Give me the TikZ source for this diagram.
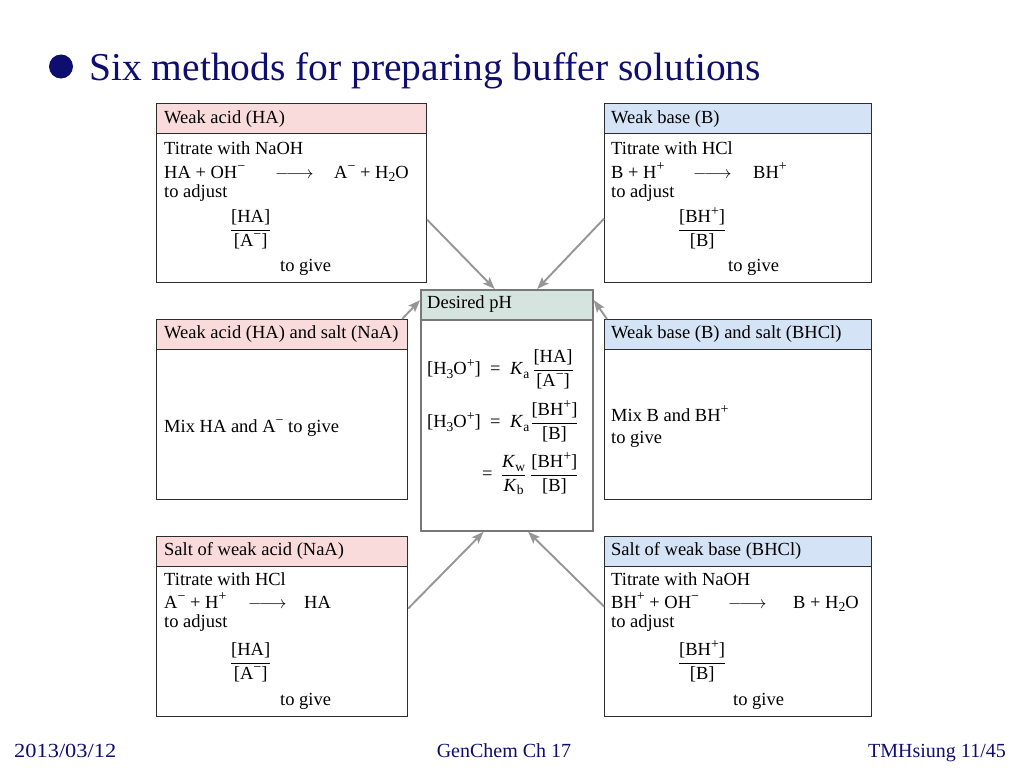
\documentclass[tikz,border=0pt]{standalone}
\usepackage{amsmath}
\usepackage{fontspec}
\setmainfont{Liberation Serif}
\usetikzlibrary{arrows.meta,calc}
\definecolor{navy}{RGB}{14,14,112}
\definecolor{pinkh}{RGB}{249,219,220}
\definecolor{blueh}{RGB}{212,227,245}
\definecolor{greenh}{RGB}{214,228,224}
\definecolor{boxc}{RGB}{45,45,45}
\definecolor{cboxc}{RGB}{120,120,120}
\definecolor{arrc}{RGB}{150,150,150}
\newcommand\sups[1]{\raisebox{7.5pt}{\fontsize{14}{14}\selectfont #1}}
\newcommand\sbs[1]{\raisebox{-3.5pt}{\fontsize{13.5}{14}\selectfont #1}}
\newcommand\mn{\sups{−}}
\newcommand\pl{\sups{+}}
\newcommand\lra{$\relbar\joinrel\relbar\joinrel\rightarrow$}
\newcommand\rxn[4]{\makebox[#1][l]{#3}\makebox[#2][l]{\lra}#4}
\newcommand\fr[2]{$\dfrac{\mbox{#1}}{\mbox{#2}}$}
\newcommand\bxfont{\fontsize{18.5}{22}\selectfont}
\tikzset{
  box/.style={draw=boxc, line width=1.2pt, inner sep=0pt, anchor=north west},
  hdr/.style={box, minimum height=30pt},
  cbox/.style={draw=cboxc, line width=1.8pt, inner sep=0pt, anchor=north west},
  txt/.style={anchor=base west, inner sep=0pt, font=\bxfont},
  arr/.style={draw=arrc, line width=1.9pt, -{Stealth[length=12pt,width=9pt,inset=2.5pt]}},
  foot/.style={inner sep=0pt, font=\fontsize{20}{24}\selectfont, text=navy}
}
\begin{document}
\begin{tikzpicture}[x=1pt,y=-1pt]
\fill[white] (0,0) rectangle (1024,768);
\useasboundingbox (0,0) rectangle (1024,768);

% title
\fill[navy] (61,66.5) circle (12);
\node[anchor=base west, inner sep=0pt, font=\fontsize{39.5}{44}\selectfont, text=navy] (title) at (89,81) {Six methods for preparing buffer solutions};

% ---------- top left
\node[hdr, fill=pinkh, minimum width=270pt] (tlh) at (156,103) {};
\node[box, minimum width=270pt, minimum height=179pt] (tl) at (156,103) {};
\node[txt] (tl0) at (164,123) {Weak acid (HA)};
\node[txt] (tl1) at (164,154) {Titrate with NaOH};
\node[txt] (tl2) at (164,178) {\rxn{111pt}{59pt}{HA + OH\mn}{A\mn{} + H\sbs{2}O}};
\node[txt] (tl3) at (164,197) {to adjust};
\node[txt] (tl4) at (229.8,234.6) {\fr{[HA]}{[A\mn]}};
\node[txt] (tl5) at (280,271) {to give};

% ---------- top right
\node[hdr, fill=blueh, minimum width=267pt] (trh) at (604,103) {};
\node[box, minimum width=267pt, minimum height=179pt] (tr) at (604,103) {};
\node[txt] (tr0) at (611,123) {Weak base (B)};
\node[txt] (tr1) at (611,154) {Titrate with HCl};
\node[txt] (tr2) at (611,178) {\rxn{82pt}{60pt}{B + H\pl}{BH\pl}};
\node[txt] (tr3) at (611,197) {to adjust};
\node[txt] (tr4) at (677.8,234.6) {\fr{[BH\pl]}{[B]}};
\node[txt] (tr5) at (728,271) {to give};

% ---------- middle left
\node[hdr, fill=pinkh, minimum width=251pt] (mlh) at (156,319) {};
\node[box, minimum width=251pt, minimum height=180pt] (ml) at (156,319) {};
\node[txt] (ml0) at (164,338) {Weak acid (HA) and salt (NaA)};
\node[txt] (ml1) at (164,432) {Mix HA and A\mn{} to give};

% ---------- middle right
\node[hdr, fill=blueh, minimum width=267pt] (mrh) at (604,319) {};
\node[box, minimum width=267pt, minimum height=180pt] (mr) at (604,319) {};
\node[txt] (mr0) at (611,338) {Weak base (B) and salt (BHCl)};
\node[txt] (mr1) at (611,421) {Mix B and BH\pl};
\node[txt] (mr2) at (611,443) {to give};

% ---------- centre
\node[cbox, fill=greenh, minimum width=172pt, minimum height=30pt] (ch) at (420,289) {};
\node[cbox, minimum width=172pt, minimum height=241pt] (c) at (420,289) {};
\node[txt] (c0) at (427,308) {Desired pH};
\node[txt] (c1) at (427,374.6) {\makebox[63pt][l]{[H\sbs{3}O\pl]}\makebox[20pt][l]{=}\textit{K}\sbs{a}\hspace{3pt}\fr{[HA]}{[A\mn]}};
\node[txt] (c2) at (427,427.6) {\makebox[63pt][l]{[H\sbs{3}O\pl]}\makebox[20pt][l]{=}\textit{K}\sbs{a}\hspace{1pt}\fr{[BH\pl]}{[B]}};
\node[txt] (c3) at (482,479.6) {\makebox[18.8pt][l]{=}$\dfrac{\mbox{\textit{K}\sbs{w}}}{\mbox{\textit{K}\sbs{b}}}\hspace{4pt}\dfrac{\mbox{[BH\pl]}}{\mbox{[B]}}$};

% ---------- bottom left
\node[hdr, fill=pinkh, minimum width=251pt] (blh) at (156,536) {};
\node[box, minimum width=251pt, minimum height=180pt] (bl) at (156,536) {};
\node[txt] (bl0) at (164,555) {Salt of weak acid (NaA)};
\node[txt] (bl1) at (164,585) {Titrate with HCl};
\node[txt] (bl2) at (164,608) {\rxn{84pt}{56pt}{A\mn{} + H\pl}{HA}};
\node[txt] (bl3) at (164,627) {to adjust};
\node[txt] (bl4) at (229.8,667.6) {\fr{[HA]}{[A\mn]}};
\node[txt] (bl5) at (280,705) {to give};

% ---------- bottom right
\node[hdr, fill=blueh, minimum width=267pt] (brh) at (604,536) {};
\node[box, minimum width=267pt, minimum height=180pt] (br) at (604,536) {};
\node[txt] (br0) at (611,555) {Salt of weak base (BHCl)};
\node[txt] (br1) at (611,585) {Titrate with NaOH};
\node[txt] (br2) at (611,608) {\rxn{117pt}{65pt}{BH\pl{} + OH\mn}{B + H\sbs{2}O}};
\node[txt] (br3) at (611,627) {to adjust};
\node[txt] (br4) at (677.8,667.6) {\fr{[BH\pl]}{[B]}};
\node[txt] (br5) at (733,705) {to give};

% ---------- arrows
\draw[arr] ($(tl.north east)!0.648!(tl.south east)$) -- ($(c.north west)!0.43!(c.north east)$);
\draw[arr] ($(tr.north west)!0.642!(tr.south west)$) -- ($(c.north west)!0.674!(c.north east)$);
\draw[arr] ($(ml.north west)!0.976!(ml.north east)$) -- ($(c.north west)!0.046!(c.south west)$);
\draw[arr] ($(mr.north west)!0.011!(mr.north east)$) -- ($(c.north east)!0.046!(c.south east)$);
\draw[arr] ($(bl.north east)!0.4!(bl.south east)$) -- ($(c.south west)!0.366!(c.south east)$);
\draw[arr] ($(br.north west)!0.389!(br.south west)$) -- ($(c.south west)!0.622!(c.south east)$);

% ---------- footer
\node[foot, anchor=base west] (f1) at (14,757) {\scalebox{1.12}[1]{2013/03/12}};
\node[foot, anchor=base] (f2) at (504,757) {GenChem Ch 17};
\node[foot, anchor=base east] (f3) at (1006,757) {TMHsiung 11/45};
\end{tikzpicture}
\end{document}
